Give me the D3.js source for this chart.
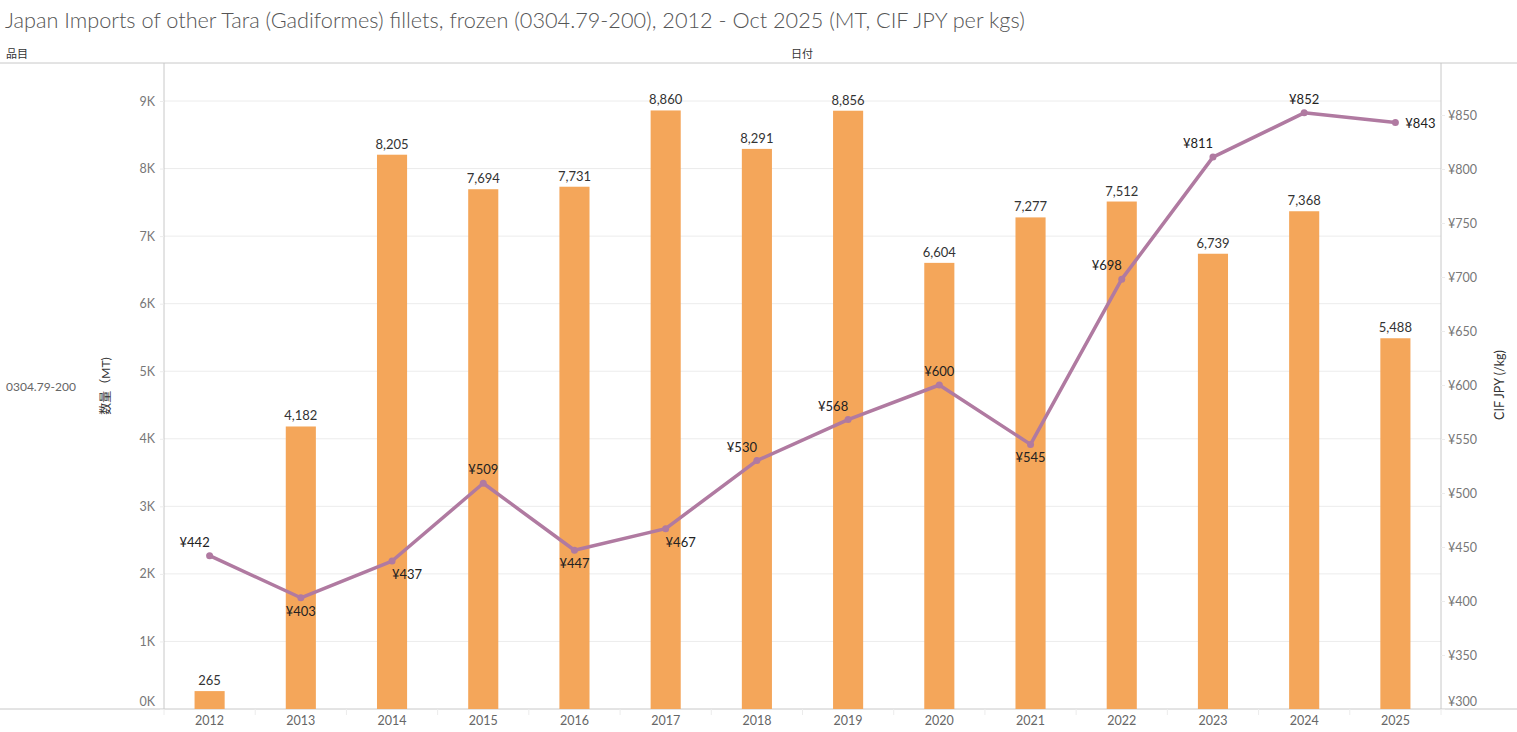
<!DOCTYPE html>
<html>
<head>
<meta charset="utf-8">
<script src="https://cdn.jsdelivr.net/npm/d3@7"></script>
<style>
  body { margin: 0; background: #fff; }
  svg { display: block; font-family: Lato, "Noto Sans CJK JP", sans-serif; }
</style>
</head>
<body>
<svg id="chart" width="1517" height="732"></svg>
<script>
const years = ["2012", "2013", "2014", "2015", "2016", "2017", "2018", "2019", "2020", "2021", "2022", "2023", "2024", "2025"];
const volumes = [265, 4182, 8205, 7694, 7731, 8860, 8291, 8856, 6604, 7277, 7512, 6739, 7368, 5488];
const prices = [442, 403, 437, 509, 447, 467, 530, 568, 600, 545, 698, 811, 852, 843];
const volumeTicks = [0, 1000, 2000, 3000, 4000, 5000, 6000, 7000, 8000, 9000];
const priceTicks = [300, 350, 400, 450, 500, 550, 600, 650, 700, 750, 800, 850];
// where each price label sits relative to its point
const priceLabelSide = ["al", "b", "br", "a", "b", "br", "al", "al", "a", "b", "al", "al", "a", "r"];

const W = 1517, H = 732;
const plotLeft = 164, plotRight = 1441, plotTop = 63, plotBottom = 709;
const svg = d3.select("#chart");
const gridColor = "#ececec", lineColor = "#c8c8c8";

const x = d3.scaleBand().domain(years).range([plotLeft, plotRight]).paddingInner(0.67).paddingOuter(0.335);
const y = d3.scaleLinear().domain([0, 9000]).range([plotBottom, 101]);
const y2 = d3.scaleLinear().domain([300, 850]).range([plotBottom, 115]);

// title
svg.append("text").attr("x", 5).attr("y", 28)
  .attr("font-size", 21.7).attr("fill", "#555").attr("font-weight", 300)
  .text("Japan Imports of other Tara (Gadiformes) fillets, frozen (0304.79-200), 2012 - Oct 2025 (MT, CIF JPY per kgs)");

svg.append("text").attr("x", 6).attr("y", 58).attr("font-size", 11).attr("fill", "#333").text("品目");
svg.append("text").attr("x", 802).attr("y", 58).attr("font-size", 11).attr("fill", "#333")
  .attr("text-anchor", "middle").text("日付");
svg.append("text").attr("x", 6).attr("y", 391).attr("font-size", 12).attr("fill", "#666").text("0304.79-200");

// gridlines
svg.append("g").selectAll("line").data(volumeTicks.slice(1)).join("line")
  .attr("x1", plotLeft).attr("x2", plotRight)
  .attr("y1", d => y(d)).attr("y2", d => y(d))
  .attr("stroke", gridColor);

// frame lines
svg.append("line").attr("x1", 0).attr("x2", W).attr("y1", plotTop).attr("y2", plotTop).attr("stroke", lineColor);
svg.append("line").attr("x1", 0).attr("x2", W).attr("y1", plotBottom).attr("y2", plotBottom).attr("stroke", lineColor);
svg.append("line").attr("x1", plotLeft).attr("x2", plotLeft).attr("y1", plotTop).attr("y2", plotBottom).attr("stroke", lineColor);
svg.append("line").attr("x1", plotRight).attr("x2", plotRight).attr("y1", plotTop).attr("y2", plotBottom).attr("stroke", lineColor);

// left axis
const yAxis = d3.axisLeft(y).tickValues(volumeTicks).tickSize(4).tickPadding(5)
  .tickFormat(d => d / 1000 + "K");
const gy = svg.append("g").attr("transform", `translate(${plotLeft},0)`).call(yAxis);
gy.select(".domain").remove();
gy.selectAll("line").attr("stroke", gridColor);
gy.selectAll("text").attr("font-size", 12.5).attr("fill", "#777").attr("font-family", "Lato")
  .attr("transform", d => d === 0 ? "translate(0,-8)" : null);

// right axis
const y2Axis = d3.axisRight(y2).tickValues(priceTicks).tickSize(4).tickPadding(3)
  .tickFormat(d => "¥" + d);
const gy2 = svg.append("g").attr("transform", `translate(${plotRight},0)`).call(y2Axis);
gy2.select(".domain").remove();
gy2.selectAll("line").attr("stroke", gridColor);
gy2.selectAll("text").attr("font-size", 12.5).attr("fill", "#777").attr("font-family", "Lato")
  .attr("transform", d => d === 300 ? "translate(0,-8)" : null);

// x axis
const gx = svg.append("g").attr("transform", `translate(0,${plotBottom})`)
  .call(d3.axisBottom(x).tickSize(0).tickPadding(7));
gx.select(".domain").remove();
gx.selectAll("text").attr("font-size", 12.5).attr("fill", "#666").attr("font-family", "Lato");
svg.append("g").selectAll("line").data(d3.range(years.length + 1)).join("line")
  .attr("x1", i => plotLeft + i * x.step()).attr("x2", i => plotLeft + i * x.step())
  .attr("y1", plotBottom).attr("y2", plotBottom + 6).attr("stroke", gridColor);

// axis titles
svg.append("text").attr("transform", "translate(110,386) rotate(-90)")
  .attr("text-anchor", "middle").attr("font-size", 12).attr("fill", "#333").text("数量（MT)");
svg.append("text").attr("transform", "translate(1504,385) rotate(-90)")
  .attr("text-anchor", "middle").attr("font-size", 12.5).attr("fill", "#333").text("CIF JPY (/kg)");

// bars
const rows = years.map((yr, i) => ({ yr, v: volumes[i], p: prices[i], side: priceLabelSide[i] }));
svg.append("g").selectAll("rect").data(rows).join("rect")
  .attr("x", d => x(d.yr)).attr("width", x.bandwidth())
  .attr("y", d => y(d.v)).attr("height", d => y(0) - y(d.v))
  .attr("fill", "#F4A65A");

svg.append("g").selectAll("text").data(rows).join("text")
  .attr("x", d => x(d.yr) + x.bandwidth() / 2).attr("y", d => y(d.v) - 6)
  .attr("text-anchor", "middle").attr("font-size", 13).attr("fill", "#333")
  .text(d => d3.format(",")(d.v));

// price line
const cx = d => x(d.yr) + x.bandwidth() / 2;
svg.append("path").datum(rows)
  .attr("d", d3.line().x(cx).y(d => y2(d.p)))
  .attr("fill", "none").attr("stroke", "#B07AA1").attr("stroke-width", 3.5)
  .attr("stroke-linejoin", "round");
svg.append("g").selectAll("circle").data(rows).join("circle")
  .attr("cx", cx).attr("cy", d => y2(d.p)).attr("r", 3.5).attr("fill", "#B07AA1");

const offsets = {
  al: [-15, -9], a: [0, -9], b: [0, 18], br: [15, 18], r: [25, 5]
};
svg.append("g").selectAll("text").data(rows).join("text")
  .attr("x", d => cx(d) + offsets[d.side][0])
  .attr("y", d => y2(d.p) + offsets[d.side][1])
  .attr("text-anchor", "middle").attr("font-size", 13).attr("fill", "#222")
  .text(d => "¥" + d.p);
</script>
</body>
</html>
